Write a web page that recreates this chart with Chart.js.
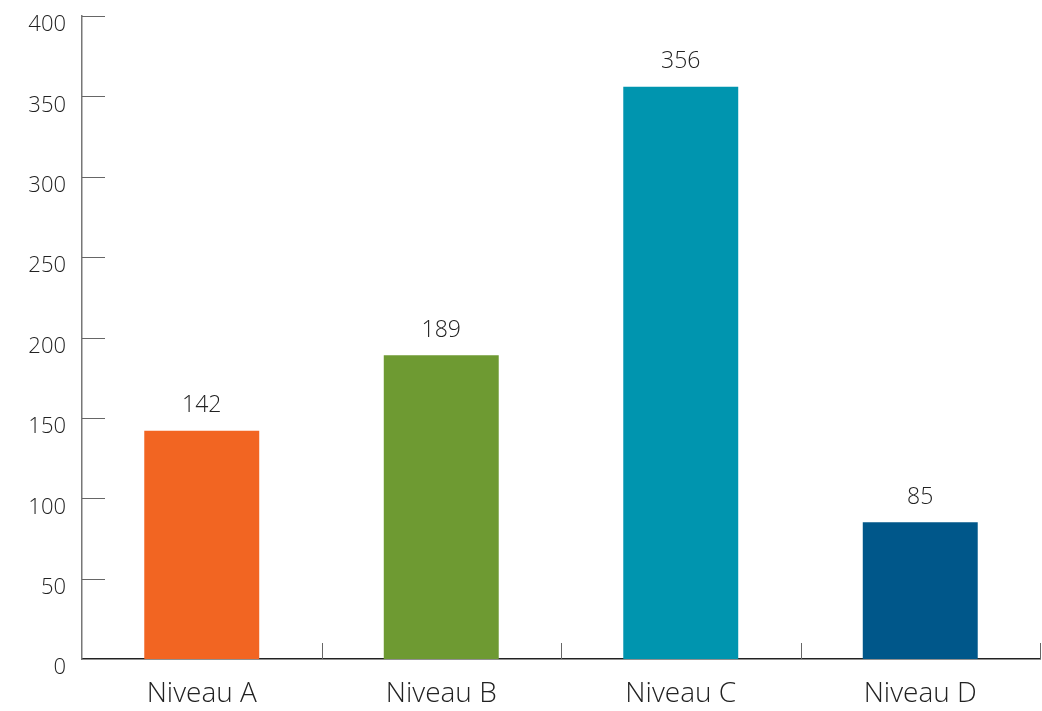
<!DOCTYPE html>
<html>
<head>
<meta charset="utf-8">
<script src="https://cdn.jsdelivr.net/npm/chart.js@4.4.0/dist/chart.umd.min.js"></script>
<style>
  html, body { margin: 0; padding: 0; background: #fff; }
  #wrap { width: 1042px; height: 711px; }
</style>
</head>
<body>
<div id="wrap"><canvas id="myChart"></canvas></div>
<script>
// Chart data
var categories = ['Niveau A', 'Niveau B', 'Niveau C', 'Niveau D'];
var values = [142, 189, 356, 85];
var barColors = ['#F26522', '#6E9A32', '#0095AF', '#00578A'];
var yTicks = [0, 50, 100, 150, 200, 250, 300, 350, 400];

var fontFamily = "'Open Sans', 'Noto Sans', sans-serif";

// ticks drawn inward + value labels over bars
var inwardTicks = {
    id: 'inwardTicks',
    afterDraw(chart) {
        var ctx = chart.ctx;
        var x = chart.scales.x;
        var y = chart.scales.y;
        var area = chart.chartArea;
        ctx.save();
        ctx.strokeStyle = '#666';
        ctx.lineWidth = 1;
        yTicks.forEach(function (v) {
            if (v == 0) return;
            var py = Math.round(y.getPixelForValue(v)) + 0.5;
            ctx.beginPath();
            ctx.moveTo(area.left, py);
            ctx.lineTo(area.left + 23, py);
            ctx.stroke();
        });
        for (var i = 1; i <= categories.length; i++) {
            var px = Math.round(x.getPixelForValue(i - 0.5)) + 0.5;
            ctx.beginPath();
            ctx.moveTo(px, area.bottom);
            ctx.lineTo(px, area.bottom - 16);
            ctx.stroke();
        }
        // value labels
        ctx.fillStyle = '#222';
        ctx.font = '300 23px ' + fontFamily;
        ctx.textAlign = 'center';
        ctx.textBaseline = 'middle';
        var meta = chart.getDatasetMeta(0);
        meta.data.forEach(function (bar, i) {
            ctx.fillText(String(values[i]), bar.x, bar.y - 25);
        });
        ctx.restore();
    }
};

const ctx = document.getElementById('myChart');
const myChart = new Chart(ctx, {
    type: 'bar',
    data: {
        labels: categories,
        datasets: [{
            data: values,
            backgroundColor: barColors,
            categoryPercentage: 1.0,
            barPercentage: 0.48
        }]
    },
    options: {
        responsive: true,
        maintainAspectRatio: false,
        animation: false,
        layout: { padding: { top: 16, right: 2, left: 0, bottom: 0 } },
        plugins: {
            legend: { display: false },
            tooltip: { enabled: false }
        },
        scales: {
            x: {
                grid: { display: false, drawTicks: false },
                border: { display: true, color: '#222', width: 1.5 },
                ticks: {
                    color: '#222',
                    padding: 18,
                    font: { family: fontFamily, size: 28, weight: '300' }
                },
                afterFit(scale) { scale.height = 52; scale.paddingLeft = 0; scale.paddingRight = 0; }
            },
            y: {
                min: 0,
                max: 400,
                afterBuildTicks(scale) {
                    scale.ticks = yTicks.map(function (v) { return { value: v }; });
                },
                grid: { display: false, drawTicks: false },
                border: { display: true, color: '#777', width: 1.5 },
                ticks: {
                    color: '#222',
                    padding: 16,
                    labelOffset: 9,
                    font: { family: fontFamily, size: 22, weight: '300' }
                },
                afterFit(scale) { scale.width = 82; scale.paddingTop = 0; scale.paddingBottom = 0; }
            }
        }
    },
    plugins: [inwardTicks]
});
</script>
</body>
</html>
